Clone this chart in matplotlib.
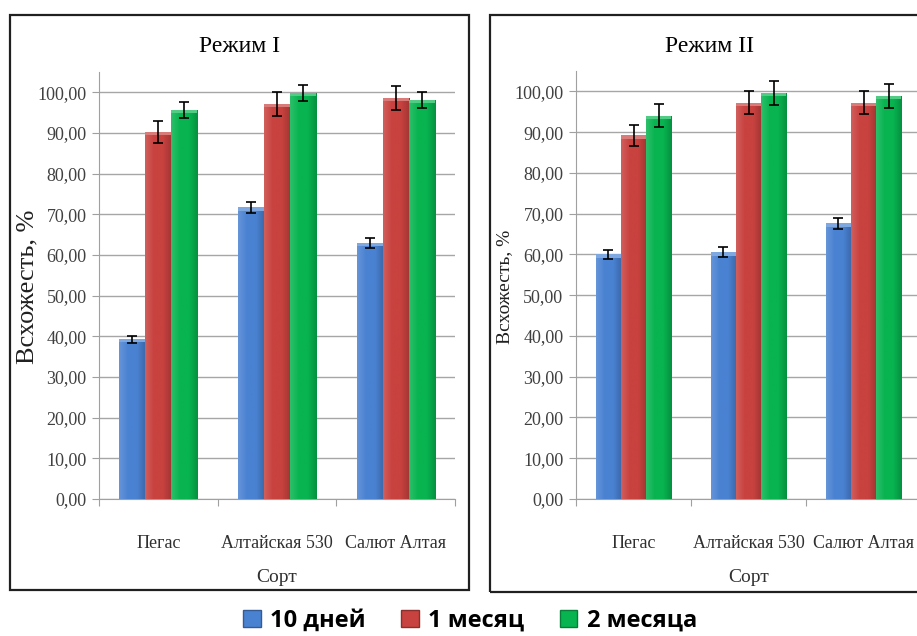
import numpy as np
import matplotlib
matplotlib.use("Agg")
import matplotlib.pyplot as plt
from matplotlib import font_manager
from matplotlib.colors import LinearSegmentedColormap, to_rgb
from matplotlib.patches import Rectangle, Patch

# Data
sorts = ["Пегас", "Алтайская 530", "Салют Алтая"]
series = ["10 дней", "1 месяц", "2 месяца"]

mode1_vals = [[39.3, 71.7, 62.9], [90.2, 97.2, 98.6], [95.6, 99.8, 98.2]]
mode1_err = [[0.9, 1.3, 1.3], [2.7, 2.9, 3.0], [2.0, 2.0, 2.0]]
mode2_vals = [[60.0, 60.5, 67.6], [89.2, 97.2, 97.2], [94.0, 99.6, 98.9]]
mode2_err = [[1.1, 1.2, 1.3], [2.6, 2.8, 2.8], [2.8, 3.0, 2.9]]

colors = ["#4a82d2", "#c8423f", "#08b450"]

W, H = 917, 636
serif = "Liberation Serif"

def pick_font(names):
    for n in names:
        try:
            font_manager.findfont(font_manager.FontProperties(family=n), fallback_to_default=False)
            return n
        except Exception:
            pass
    return "DejaVu Sans"

legend_font = pick_font(["Liberation Sans Narrow", "Open Sans", "Lato"])

fig = plt.figure(figsize=(W / 100, H / 100), dpi=100)


def fx(px):
    return px / W


def fy(py):
    return 1 - py / H


def shade(c, f):
    r = np.array(to_rgb(c))
    if f > 0:
        return tuple(r + (1 - r) * f)
    return tuple(r * (1 + f))


def draw_panel(rect, vals, errs, title, title_x, ylab_x, ylab_size):
    ax = fig.add_axes(rect)
    x = np.arange(len(sorts))
    w = 0.22
    for i, (v, e, c) in enumerate(zip(vals, errs, colors)):
        bars = ax.bar(x + (i - 1) * w, v, w, color=c, edgecolor=shade(c, -0.3),
                      linewidth=0.6, zorder=3, label=series[i])
        cmap = LinearSegmentedColormap.from_list(
            "g", [shade(c, 0.15), c, c, shade(c, -0.2)])
        grad = np.linspace(0, 1, 64).reshape(1, -1)
        for b in bars:
            im = ax.imshow(grad, extent=[b.get_x(), b.get_x() + b.get_width(), 0, b.get_height()],
                           aspect="auto", cmap=cmap, zorder=3.5)
            im.set_clip_path(b)
            top = b.get_height()
            ax.add_patch(Rectangle((b.get_x(), top - 0.8), b.get_width(), 0.8,
                                   color=shade(c, 0.3), zorder=3.6, lw=0))
        ax.errorbar(x + (i - 1) * w, v, yerr=e, fmt="none", ecolor="black",
                    elinewidth=1.2, capsize=3.5, capthick=1.2, zorder=5)
    ax.set_xlim(-0.5, 2.5)
    ax.set_ylim(0, 105)
    ax.set_yticks(np.arange(0, 101, 10))
    ax.set_yticklabels([f"{t:.2f}".replace(".", ",") for t in np.arange(0, 101, 10)],
                       fontfamily=serif, fontsize=13, color="#404040")
    ax.set_xticks([-0.5, 0.5, 1.5, 2.5])
    ax.set_xticklabels([])
    ax.set_xticks(x, minor=True)
    ax.set_xticklabels(sorts, minor=True, fontfamily=serif, fontsize=13, color="#303030")
    ax.tick_params(axis="x", which="minor", length=0, pad=26)
    ax.tick_params(axis="x", which="major", length=5, color="#a0a0a0")
    ax.tick_params(axis="y", length=5, color="#a0a0a0", pad=4)
    ax.grid(axis="y", color="#a6a6a6", linewidth=1.0, zorder=0)
    ax.set_axisbelow(True)
    for s in ["top", "right"]:
        ax.spines[s].set_visible(False)
    for s in ["left", "bottom"]:
        ax.spines[s].set_color("#a0a0a0")
    ax.set_xlabel("Сорт", fontfamily=serif, fontsize=14, color="#303030", labelpad=12)
    fig.text(fx(title_x), fy(47), title, ha="center", va="center",
             fontfamily=serif, fontsize=17)
    fig.text(fx(ylab_x), fy(287), "Всхожесть, %", rotation=90, ha="center", va="center",
             fontfamily=serif, fontsize=ylab_size, color="#202020")
    return ax


ax1 = draw_panel([fx(99), fy(499), fx(455 - 99), (499 - 72) / H],
                 mode1_vals, mode1_err, "Режим I", 240, 27, 19)
ax2 = draw_panel([fx(576), fy(499), fx(345), (499 - 71) / H],
                 mode2_vals, mode2_err, "Режим II", 710, 505, 14)

# chart borders
fig.add_artist(Rectangle((fx(10), fy(590)), fx(469 - 10), (590 - 15) / H,
                         transform=fig.transFigure, fill=False, lw=1.6, ec="#202020"))
fig.add_artist(Rectangle((fx(490), fy(592)), fx(940 - 490), (592 - 15) / H,
                         transform=fig.transFigure, fill=False, lw=1.6, ec="#202020",
                         clip_on=False))

handles = [Patch(facecolor=c, edgecolor=shade(c, -0.3)) for c in colors]
fig.legend(handles, series, loc="center", bbox_to_anchor=(fx(470), fy(621)), ncol=3,
           frameon=False, prop={"family": legend_font, "weight": "bold", "size": 17},
           handlelength=0.75, handleheight=0.75, handletextpad=0.4, columnspacing=1.5)

fig.savefig("out.png", dpi=100)
